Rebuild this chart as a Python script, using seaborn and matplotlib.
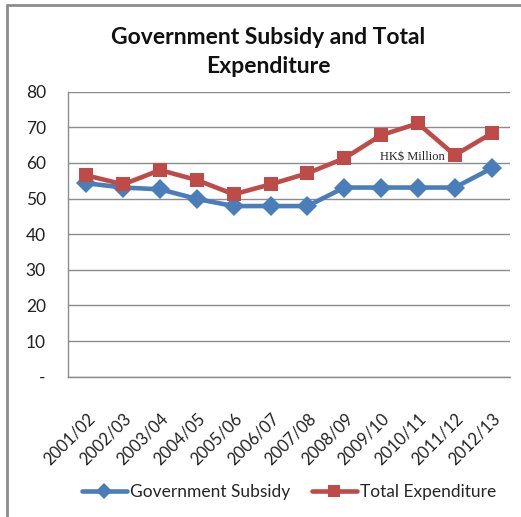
import matplotlib
matplotlib.use("Agg")
import matplotlib.pyplot as plt
import seaborn as sns
import pandas as pd
from matplotlib.lines import Line2D

years = ["2001/02", "2002/03", "2003/04", "2004/05", "2005/06", "2006/07",
         "2007/08", "2008/09", "2009/10", "2010/11", "2011/12", "2012/13"]
government_subsidy = [54.3, 53.1, 52.6, 49.9, 47.9, 47.9, 47.9, 53.1, 53.1, 53.1, 53.1, 58.5]
total_expenditure = [56.5, 54.0, 58.0, 55.2, 51.2, 54.0, 57.1, 61.3, 67.8, 71.1, 62.2, 68.3]
y_ticks = [0, 10, 20, 30, 40, 50, 60, 70, 80]
y_tick_labels = ["-", "10", "20", "30", "40", "50", "60", "70", "80"]

blue = "#4A7EBB"
red = "#BE4B48"
grid_grey = "#8C8C8C"

df = pd.DataFrame({
    "year": years * 2,
    "value": government_subsidy + total_expenditure,
    "series": ["Government Subsidy"] * len(years) + ["Total Expenditure"] * len(years),
})

sns.set_style("white")
plt.rcParams["font.family"] = ["Lato", "DejaVu Sans"]

fig = plt.figure(figsize=(5.21, 5.17), dpi=100)
ax = fig.add_axes([0.1305, 0.2714, 0.8485, 0.5512])

sns.lineplot(data=df, x="year", y="value", hue="series", style="series",
             markers={"Government Subsidy": "D", "Total Expenditure": "s"},
             dashes=False, palette={"Government Subsidy": blue, "Total Expenditure": red},
             linewidth=3.3, markersize=10.5, markeredgewidth=0, sort=False, ax=ax, legend=False)

ax.set_xlim(-0.5, len(years) - 0.5)
ax.set_ylim(0, 80)
ax.set_yticks(y_ticks)
ax.set_yticklabels(y_tick_labels, fontsize=12.5, color="#222222")
ax.set_xticks(range(len(years)))
ax.set_xticklabels(years, rotation=45, ha="right", rotation_mode="anchor",
                   fontsize=12, color="#222222")
ax.tick_params(axis="x", length=0, pad=24)
ax.tick_params(axis="y", length=0, pad=16)
ax.set_xlabel("")
ax.set_ylabel("")
ax.yaxis.grid(True, color=grid_grey, linewidth=1)
ax.set_axisbelow(True)
for side in ["top", "right"]:
    ax.spines[side].set_visible(False)
for side in ["left", "bottom"]:
    ax.spines[side].set_color(grid_grey)
    ax.spines[side].set_linewidth(1)

ax.text(8.85, 61.7, "HK$ Million", family=["Liberation Serif"], fontsize=9,
        ha="center", va="center", color="#222222")

fig.text(0.515, 0.9, "Government Subsidy and Total\nExpenditure",
         ha="center", va="center", fontsize=16.5, fontweight="bold",
         linespacing=1.45, color="#111111")

handles = [
    Line2D([0], [0], color=blue, lw=3.3, marker="D", markersize=8, markeredgewidth=0),
    Line2D([0], [0], color=red, lw=3.3, marker="s", markersize=9, markeredgewidth=0),
]
fig.legend(handles, ["Government Subsidy", "Total Expenditure"],
           loc="center", bbox_to_anchor=(0.555, 0.048), ncol=2, frameon=False,
           fontsize=12.5, handlelength=2.6, handletextpad=0.2, columnspacing=1.2)

# frame around the chart (top and left edges)
fig.add_artist(Line2D([7 / 521, 7 / 521], [0, 1 - 5 / 517], transform=fig.transFigure,
                      color="#8C8C8C", lw=2))
fig.add_artist(Line2D([7 / 521, 1], [1 - 5 / 517, 1 - 5 / 517], transform=fig.transFigure,
                      color="#8C8C8C", lw=2))

fig.savefig("out.png", dpi=100)
